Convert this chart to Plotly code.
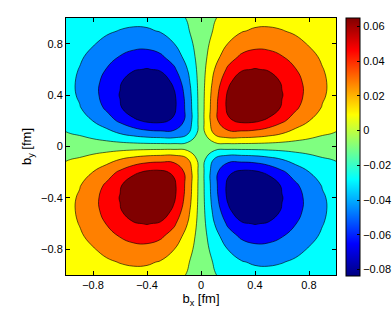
import numpy as np
import plotly.graph_objects as go

# grid coordinates (fm)
bx = [-1.0, -0.9, -0.8, -0.7, -0.6, -0.5, -0.4, -0.3, -0.2, -0.1, 0.0,
      0.1, 0.2, 0.3, 0.4, 0.5, 0.6, 0.7, 0.8, 0.9, 1.0]
by = list(bx)

# values read for the first quadrant (rows: b_y = 0..1, cols: b_x = 0..1)
quadrant = [
    [0, 0,      0,      0,      0,      0,      0,      0,      0,      0,      0],
    [0, 0.0263, 0.0364, 0.0358, 0.0341, 0.0301, 0.0247, 0.0186, 0.0137, 0.0096, 0.0075],
    [0, 0.0364, 0.0551, 0.0614, 0.0605, 0.0543, 0.0442, 0.0337, 0.0250, 0.0178, 0.0126],
    [0, 0.0358, 0.0614, 0.0735, 0.0747, 0.0684, 0.0560, 0.0438, 0.0328, 0.0237, 0.0167],
    [0, 0.0341, 0.0605, 0.0747, 0.0782, 0.0713, 0.0585, 0.0476, 0.0363, 0.0266, 0.0193],
    [0, 0.0301, 0.0543, 0.0684, 0.0713, 0.0661, 0.0565, 0.0465, 0.0360, 0.0271, 0.0196],
    [0, 0.0247, 0.0442, 0.0560, 0.0585, 0.0565, 0.0506, 0.0418, 0.0331, 0.0253, 0.0193],
    [0, 0.0186, 0.0337, 0.0438, 0.0476, 0.0465, 0.0418, 0.0355, 0.0288, 0.0226, 0.0182],
    [0, 0.0137, 0.0250, 0.0328, 0.0363, 0.0360, 0.0331, 0.0288, 0.0237, 0.0197, 0.0170],
    [0, 0.0096, 0.0178, 0.0237, 0.0266, 0.0271, 0.0253, 0.0226, 0.0197, 0.0175, 0.0156],
    [0, 0.0075, 0.0126, 0.0167, 0.0193, 0.0196, 0.0193, 0.0182, 0.0170, 0.0156, 0.0140],
]

# contour levels
level_start = -0.05775
level_end = 0.05775
level_step = 0.0165

# colorbar range and ticks
cbar_min = -0.0835
cbar_max = 0.0652
cbar_ticks = [-0.08, -0.06, -0.04, -0.02, 0, 0.02, 0.04, 0.06]
axis_ticks = [-0.8, -0.4, 0, 0.4, 0.8]

# build full grid (sign flips across each axis)
q = np.array(quadrant)
half = np.hstack([-q[:, :0:-1], q])
z = np.vstack([-half[:0:-1, :], half])

jet = [
    [0.0, "rgb(0,0,128)"],
    [0.125, "rgb(0,0,255)"],
    [0.375, "rgb(0,255,255)"],
    [0.625, "rgb(255,255,0)"],
    [0.875, "rgb(255,0,0)"],
    [1.0, "rgb(128,0,0)"],
]

FONT = "Liberation Sans, Arial, Helvetica, sans-serif"

fig = go.Figure()
fig.add_trace(go.Contour(
    x=bx, y=by, z=z,
    colorscale=jet,
    contours=dict(start=level_start, end=level_end, size=level_step, coloring="fill"),
    line=dict(color="black", width=0.6, smoothing=1.3),
    showscale=False,
    hoverinfo="skip",
))
fig.add_trace(go.Scatter(
    x=[0], y=[0], mode="markers",
    marker=dict(size=1, opacity=0, color=[0], cmin=cbar_min, cmax=cbar_max,
                colorscale=jet, showscale=True,
                colorbar=dict(
                    x=1.037, xanchor="left", xpad=0, ypad=0,
                    y=0.5, yanchor="middle", len=1.004, lenmode="fraction",
                    thickness=14, thicknessmode="pixels",
                    outlinecolor="black", outlinewidth=1,
                    ticks="inside", ticklen=3, tickcolor="black",
                    tickvals=cbar_ticks,
                    tickfont=dict(family=FONT, size=11, color="black"),
                )),
    hoverinfo="skip", showlegend=False,
))

axis_common = dict(
    range=[-1, 1], tickvals=axis_ticks, ticks="inside", ticklen=4,
    tickcolor="black", showline=True, linecolor="black", linewidth=1,
    mirror="allticks", showgrid=False, zeroline=False,
    tickfont=dict(family=FONT, size=11, color="black"),
)
fig.update_layout(
    width=392, height=316,
    margin=dict(l=66, r=56, t=18, b=41, autoexpand=False),
    paper_bgcolor="white", plot_bgcolor="white",
    font=dict(family=FONT, color="black"),
    xaxis=dict(**axis_common, title=dict(text="b<sub>x</sub> [fm]", font=dict(size=13), standoff=2)),
    yaxis=dict(**axis_common, title=dict(text="b<sub>y</sub> [fm]", font=dict(size=13), standoff=6)),
    showlegend=False,
)
fig.write_html("out.html", config={"displayModeBar": False},
               post_script="document.body.style.margin='0';")
